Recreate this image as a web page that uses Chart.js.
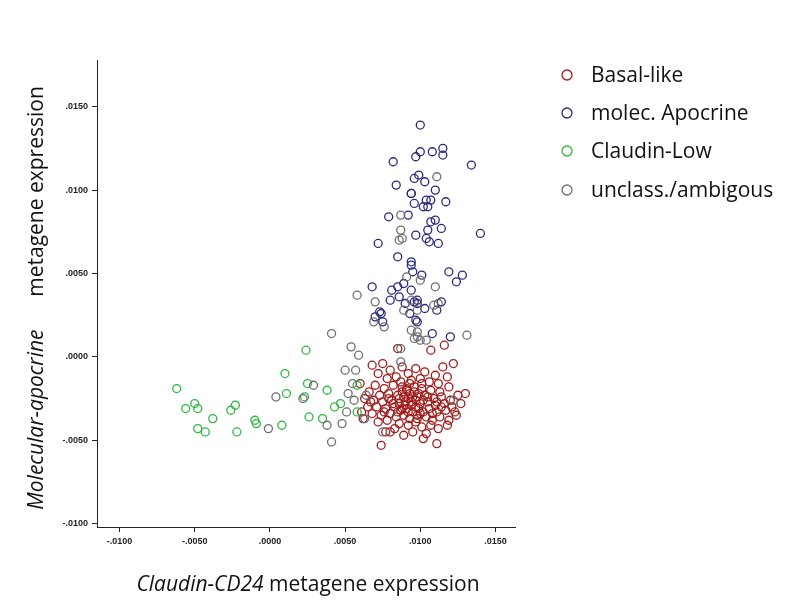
<!DOCTYPE html>
<html>
<head>
<meta charset="utf-8">
<script src="https://cdn.jsdelivr.net/npm/chart.js@4.4.0/dist/chart.umd.min.js"></script>
<style>
  html, body { margin: 0; padding: 0; background: #fff; }
  #wrap { width: 795px; height: 601px; }
</style>
</head>
<body>
<div id="wrap"><canvas id="c"></canvas></div>
<script>
// tick values
const xTicks = [-0.010, -0.005, 0.000, 0.005, 0.010, 0.015];
const yTicks = [-0.010, -0.005, 0.000, 0.005, 0.010, 0.015];
const legendLabels = ['Basal-like', 'molec. Apocrine', 'Claudin-Low', 'unclass./ambigous'];

// [x, y] pairs
const basalPts = [
  [0.0085,0.0005],[0.0116,0.0007],[0.0107,0.0004],[0.0068,-0.0005],[0.0075,-0.0004],[0.0122,-0.0004],
  [0.0130,-0.0022],[0.0123,-0.0033],[0.0060,-0.0016],[0.0074,-0.0053],[0.0111,-0.0052],[0.0102,-0.0049],
  [0.0077,-0.0045],[0.0080,-0.0045],[0.0062,-0.0037],[0.0067,-0.0027],[0.0061,-0.0033],
  [0.0080,-0.0008],[0.0088,-0.0006],[0.0092,-0.0010],[0.0097,-0.0007],[0.0103,-0.0009],[0.0110,-0.0011],
  [0.0115,-0.0006],[0.0072,-0.0010],[0.0078,-0.0013],[0.0084,-0.0012],[0.0094,-0.0014],[0.0100,-0.0013],
  [0.0106,-0.0015],[0.0112,-0.0016],[0.0118,-0.0012],[0.0070,-0.0017],[0.0076,-0.0019],[0.0082,-0.0017],
  [0.0088,-0.0018],[0.0091,-0.0020],[0.0096,-0.0018],[0.0101,-0.0019],[0.0107,-0.0020],[0.0113,-0.0021],
  [0.0119,-0.0018],[0.0066,-0.0021],[0.0073,-0.0023],[0.0079,-0.0022],[0.0085,-0.0023],[0.0089,-0.0024],
  [0.0093,-0.0022],[0.0098,-0.0024],[0.0103,-0.0023],[0.0109,-0.0025],[0.0114,-0.0024],[0.0120,-0.0026],
  [0.0125,-0.0023],[0.0069,-0.0026],[0.0075,-0.0027],[0.0081,-0.0026],[0.0086,-0.0028],[0.0090,-0.0027],
  [0.0094,-0.0029],[0.0097,-0.0026],[0.0100,-0.0028],[0.0105,-0.0027],[0.0110,-0.0029],[0.0116,-0.0028],
  [0.0121,-0.0030],[0.0071,-0.0030],[0.0077,-0.0031],[0.0083,-0.0030],[0.0087,-0.0032],[0.0091,-0.0031],
  [0.0095,-0.0033],[0.0099,-0.0031],[0.0102,-0.0033],[0.0106,-0.0031],[0.0111,-0.0033],[0.0117,-0.0032],
  [0.0124,-0.0035],[0.0068,-0.0034],[0.0074,-0.0035],[0.0080,-0.0034],[0.0084,-0.0036],[0.0089,-0.0035],
  [0.0093,-0.0037],[0.0098,-0.0035],[0.0104,-0.0036],[0.0108,-0.0038],[0.0113,-0.0036],[0.0119,-0.0038],
  [0.0072,-0.0039],[0.0078,-0.0038],[0.0086,-0.0040],[0.0092,-0.0041],[0.0097,-0.0039],[0.0101,-0.0042],
  [0.0107,-0.0041],[0.0112,-0.0043],[0.0083,-0.0043],[0.0095,-0.0045],[0.0104,-0.0046],[0.0089,-0.0047],
  [0.0088,-0.0021],[0.0092,-0.0025],[0.0096,-0.0021],[0.0099,-0.0022],[0.0086,-0.0025],[0.0094,-0.0027],
  [0.0102,-0.0026],[0.0090,-0.0029],[0.0097,-0.0030],[0.0092,-0.0033],[0.0100,-0.0034],[0.0088,-0.0031],
  [0.0105,-0.0024],[0.0082,-0.0028],[0.0095,-0.0024],[0.0091,-0.0019],[0.0098,-0.0037],[0.0085,-0.0033],
  [0.0108,-0.0034],[0.0079,-0.0025],[0.0111,-0.0027],[0.0076,-0.0033],[0.0114,-0.0030],[0.0093,-0.0016],
  [0.0087,-0.0015],[0.0101,-0.0016],[0.0063,-0.0025],[0.0065,-0.0030],[0.0127,-0.0028],[0.0118,-0.0041]
];
const apocrinePts = [
  [0.0100,0.0139],[0.0100,0.0123],[0.0108,0.0123],[0.0115,0.0125],[0.0115,0.0121],[0.0097,0.0120],
  [0.0082,0.0117],[0.0134,0.0115],[0.0096,0.0107],[0.0099,0.0109],[0.0103,0.0105],[0.0084,0.0103],
  [0.0110,0.0100],[0.0094,0.0098],[0.0094,0.0098],[0.0104,0.0094],[0.0107,0.0094],[0.0117,0.0093],
  [0.0096,0.0092],[0.0102,0.0090],[0.0105,0.0090],[0.0079,0.0084],[0.0092,0.0085],[0.0107,0.0081],
  [0.0110,0.0082],[0.0105,0.0076],[0.0114,0.0077],[0.0097,0.0073],[0.0140,0.0074],[0.0104,0.0071],
  [0.0106,0.0069],[0.0112,0.0068],[0.0072,0.0068],[0.0085,0.0060],[0.0094,0.0057],[0.0094,0.0055],
  [0.0095,0.0051],[0.0101,0.0049],[0.0119,0.0051],[0.0128,0.0049],[0.0124,0.0045],[0.0068,0.0042],
  [0.0081,0.0040],[0.0085,0.0042],[0.0089,0.0044],[0.0094,0.0040],[0.0086,0.0036],[0.0080,0.0034],
  [0.0090,0.0032],[0.0096,0.0033],[0.0098,0.0034],[0.0098,0.0032],[0.0103,0.0029],[0.0111,0.0028],
  [0.0114,0.0033],[0.0093,0.0026],[0.0073,0.0027],[0.0074,0.0026],[0.0070,0.0024],[0.0075,0.0021],
  [0.0097,0.0022],[0.0098,0.0021],[0.0108,0.0014],[0.0120,0.0012]
];
const claudinPts = [
  [-0.0062,-0.0019],[0.0024,0.0004],[0.0010,-0.0010],[0.0025,-0.0016],[0.0011,-0.0022],[0.0038,-0.0020],
  [0.0023,-0.0024],[-0.0050,-0.0028],[-0.0056,-0.0031],[-0.0048,-0.0031],[-0.0023,-0.0029],[-0.0026,-0.0032],
  [-0.0038,-0.0037],[-0.0010,-0.0038],[-0.0009,-0.0040],[0.0008,-0.0041],[-0.0048,-0.0043],[-0.0043,-0.0045],
  [-0.0022,-0.0045],[0.0026,-0.0036],[0.0035,-0.0037],[0.0043,-0.0030],[0.0047,-0.0028],[0.0058,-0.0017],
  [0.0058,-0.0033]
];
const unclassPts = [
  [0.0111,0.0108],[0.0087,0.0085],[0.0087,0.0076],[0.0086,0.0070],[0.0088,0.0071],[0.0091,0.0048],
  [0.0100,0.0046],[0.0110,0.0042],[0.0058,0.0037],[0.0070,0.0033],[0.0094,0.0034],[0.0089,0.0028],
  [0.0098,0.0028],[0.0109,0.0031],[0.0112,0.0032],[0.0069,0.0021],[0.0076,0.0018],[0.0041,0.0014],
  [0.0094,0.0016],[0.0098,0.0015],[0.0096,0.0011],[0.0100,0.0010],[0.0104,0.0010],[0.0131,0.0013],
  [0.0054,0.0006],[0.0059,0.0001],[0.0050,-0.0008],[0.0057,-0.0008],[0.0055,-0.0016],[0.0052,-0.0022],
  [0.0056,-0.0026],[0.0029,-0.0017],[0.0004,-0.0024],[0.0022,-0.0025],[0.0051,-0.0033],[-0.0001,-0.0043],
  [0.0038,-0.0041],[0.0048,-0.0040],[0.0041,-0.0051],[0.0064,-0.0023],[0.0063,-0.0037],[0.0075,-0.0045],
  [0.0122,-0.0026],[0.0087,0.0005],[0.0087,-0.0003],[0.0098,0.0012]
];

const toXY = a => a.map(p => ({ x: p[0], y: p[1] }));
const colors = ['#a11b1b', '#2a2a7e', '#2fb83f', '#6e6e6e'];
const FONT = '"Open Sans", sans-serif';

function fmt(v) {
  if (Math.abs(v) < 1e-9) return '.0000';
  const s = Math.abs(v).toFixed(4).replace(/^0/, '');
  return (v < 0 ? '-' : '') + s;
}

// draw an italic part followed by a regular part, centered on 0
function mixed(ctx, it, reg, size, y) {
  ctx.font = 'italic ' + size + 'px ' + FONT;
  const wa = ctx.measureText(it).width;
  ctx.font = size + 'px ' + FONT;
  const wb = ctx.measureText(reg).width;
  const x0 = -(wa + wb) / 2;
  ctx.font = 'italic ' + size + 'px ' + FONT;
  ctx.fillText(it, x0, y);
  ctx.font = size + 'px ' + FONT;
  ctx.fillText(reg, x0 + wa, y);
}

const overlay = {
  id: 'overlay',
  afterDraw(chart) {
    const ctx = chart.ctx;
    ctx.save();
    ctx.fillStyle = '#111';
    ctx.textBaseline = 'alphabetic';
    ctx.translate(308, 591);
    mixed(ctx, 'Claudin-CD24', ' metagene expression', 21, 0);
    ctx.restore();
    ctx.save();
    ctx.fillStyle = '#111';
    ctx.translate(43, 298);
    ctx.rotate(-Math.PI / 2);
    mixed(ctx, 'Molecular-apocrine', '      metagene expression', 21, 0);
    ctx.restore();
    // legend
    ctx.save();
    ctx.font = '21px ' + FONT;
    ctx.textBaseline = 'middle';
    const ys = [76, 114, 152, 191];
    legendLabels.forEach((t, i) => {
      ctx.beginPath();
      ctx.arc(567, ys[i] - 1, 5, 0, Math.PI * 2);
      ctx.strokeStyle = colors[i];
      ctx.lineWidth = 1.3;
      ctx.stroke();
      ctx.fillStyle = '#111';
      ctx.fillText(t, 591, ys[i]);
    });
    ctx.restore();
  }
};

const ds = (pts, i, lab) => ({
  label: lab, data: toXY(pts), pointRadius: 4, pointHoverRadius: 4,
  pointBorderWidth: 1.3, borderColor: colors[i], backgroundColor: 'rgba(0,0,0,0)'
});

new Chart(document.getElementById('c'), {
  type: 'scatter',
  data: {
    datasets: [
      ds(unclassPts, 3, legendLabels[3]),
      ds(claudinPts, 2, legendLabels[2]),
      ds(apocrinePts, 1, legendLabels[1]),
      ds(basalPts, 0, legendLabels[0])
    ]
  },
  options: {
    responsive: true,
    maintainAspectRatio: false,
    animation: false,
    layout: { padding: { left: 0, top: 60, right: 280, bottom: 0 } },
    plugins: { legend: { display: false }, tooltip: { enabled: false } },
    scales: {
      x: {
        min: -0.0115, max: 0.0163,
        afterBuildTicks: s => { s.ticks = xTicks.map(v => ({ value: v })); },
        afterFit: s => { s.height = 74; },
        grid: { drawOnChartArea: false, tickLength: 5, color: '#222' },
        border: { color: '#222', width: 1 },
        ticks: { callback: v => fmt(v), font: { size: 9, weight: 'bold', family: 'Liberation Sans' }, color: '#222', maxRotation: 0, padding: 4 }
      },
      y: {
        min: -0.0102, max: 0.0178,
        afterBuildTicks: s => { s.ticks = yTicks.map(v => ({ value: v })); },
        afterFit: s => { s.width = 97; },
        grid: { drawOnChartArea: false, tickLength: 5, color: '#222' },
        border: { color: '#222', width: 1 },
        ticks: { callback: v => fmt(v), font: { size: 9, weight: 'bold', family: 'Liberation Sans' }, color: '#222', padding: 4 }
      }
    }
  },
  plugins: [overlay]
});
</script>
</body>
</html>
